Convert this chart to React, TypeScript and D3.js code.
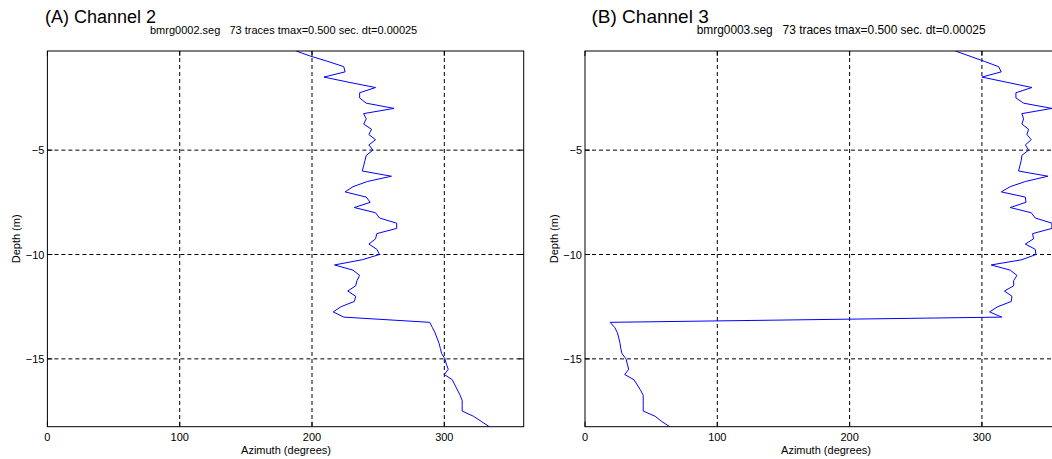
import React from 'react';
import * as d3 from 'd3';

// Depth of each of the 73 traces (m)
const depths = [
  -0.25, -0.5, -0.75, -1, -1.25, -1.5, -1.75, -2, -2.25, -2.5,
  -2.75, -3, -3.25, -3.5, -3.75, -4, -4.25, -4.5, -4.75, -5,
  -5.25, -5.5, -5.75, -6, -6.25, -6.5, -6.75, -7, -7.25, -7.5,
  -7.75, -8, -8.25, -8.5, -8.75, -9, -9.25, -9.5, -9.75, -10,
  -10.25, -10.5, -10.75, -11, -11.25, -11.5, -11.75, -12, -12.25, -12.5,
  -12.75, -13, -13.25, -13.5, -13.75, -14, -14.25, -14.5, -14.75, -15,
  -15.25, -15.5, -15.75, -16, -16.25, -16.5, -16.75, -17, -17.25, -17.5,
  -17.75, -18, -18.25,
];

// Azimuth (degrees), channel 2
const channel2 = [
  188, 199, 212, 224, 225, 209, 228, 248, 236, 236,
  241, 262, 239, 241, 239, 245, 243, 248, 243, 246,
  241, 240, 239, 238, 260, 242, 231, 225, 241, 244,
  232, 248, 251, 264, 264, 249, 248, 243, 249, 251,
  238, 217, 231, 236, 234, 233, 227, 233, 232, 222,
  216, 224, 289, 291, 293, 294.5, 296, 297, 298, 300.5,
  301.5, 303, 300, 306, 308, 310, 312, 313.5, 313.5, 313.5,
  322, 328, 334,
];

// Azimuth (degrees), channel 3
const channel3 = [
  280, 291, 302, 312.6, 314.6, 300, 319, 337.8, 325.7, 325.7,
  331.5, 352.9, 330.2, 331.5, 330.2, 335.3, 334, 337.3, 332.8, 335.3,
  330.2, 329.7, 328.7, 327.7, 349.9, 333, 321.4, 314.6, 332.8, 333.3,
  321.4, 337.3, 340.3, 352.9, 352.9, 338.3, 339, 332.8, 340.3, 340.8,
  330.2, 307, 321.4, 326.5, 324, 324, 317, 322.7, 322.2, 312,
  305.8, 315, 19, 22.5, 24.5, 25.5, 26.5, 27, 28, 31,
  32, 33, 30, 37, 39.5, 42, 44, 44, 44, 44,
  53, 58, 64,
];

const xTicks = [0, 100, 200, 300];
const yTicks = [-5, -10, -15];
const panelTitles = ['(A) Channel 2', '(B) Channel 3'];
const panelSubtitles = [
  'bmrg0002.seg   73 traces tmax=0.500 sec. dt=0.00025',
  'bmrg0003.seg   73 traces tmax=0.500 sec. dt=0.00025',
];
const xDomain = [0, 360];
const yDomain = [-0.25, -18.25];

const FONT = '"Liberation Sans", Arial, Helvetica, sans-serif';

const layouts = [
  { left: 47.4, right: 523.7, titleX: 45, titleSize: 18, subX: 150, subSize: 11, depthX: 20, azX: 286 },
  { left: 585, right: 1061.3, titleX: 591.5, titleSize: 19, subX: 696.7, subSize: 11.9, depthX: 557.6, azX: 826 },
];
const TOP = 51;
const BOTTOM = 426.7;

function Panel({ idx, values }: { idx: number; values: number[] }) {
  const L = layouts[idx];
  const x = d3.scaleLinear().domain(xDomain).range([L.left, L.right]);
  const y = d3.scaleLinear().domain(yDomain).range([TOP, BOTTOM]);
  const pts: [number, number][] = values.map((v, i) => [v, depths[i]]);
  const line = d3
    .line<[number, number]>()
    .x((d) => x(d[0]))
    .y((d) => y(d[1]));
  const clipId = `clip-${idx}`;
  const tick = 5;
  return (
    <g>
      <defs>
        <clipPath id={clipId}>
          <rect x={L.left} y={TOP} width={L.right - L.left} height={BOTTOM - TOP} />
        </clipPath>
      </defs>
      <text x={L.titleX} y={23} fontFamily={FONT} fontSize={L.titleSize} fill="#000">
        {panelTitles[idx]}
      </text>
      <text
        x={L.subX}
        y={34}
        fontFamily={FONT}
        fontSize={L.subSize}
        fill="#000"
        style={{ whiteSpace: 'pre' }}
      >
        {panelSubtitles[idx]}
      </text>
      <rect x={L.left} y={TOP} width={L.right - L.left} height={BOTTOM - TOP} fill="#fff" />
      {/* grid */}
      <g stroke="#000" strokeWidth={1} strokeDasharray="4,3" clipPath={`url(#${clipId})`}>
        {xTicks
          .filter((t) => t !== 0)
          .map((t) => (
            <line key={`gx${t}`} x1={x(t)} x2={x(t)} y1={TOP} y2={BOTTOM} />
          ))}
        {yTicks.map((t) => (
          <line key={`gy${t}`} x1={L.left} x2={L.right} y1={y(t)} y2={y(t)} />
        ))}
      </g>
      {/* data */}
      <path
        d={line(pts) || ''}
        fill="none"
        stroke="#0000ff"
        strokeWidth={1}
        clipPath={`url(#${clipId})`}
      />
      {/* box */}
      <rect
        x={L.left}
        y={TOP}
        width={L.right - L.left}
        height={BOTTOM - TOP}
        fill="none"
        stroke="#000"
        strokeWidth={1}
      />
      {/* ticks */}
      <g stroke="#000" strokeWidth={1}>
        {xTicks.map((t) => (
          <g key={`tx${t}`}>
            <line x1={x(t)} x2={x(t)} y1={TOP} y2={TOP + tick} />
            <line x1={x(t)} x2={x(t)} y1={BOTTOM} y2={BOTTOM - tick} />
          </g>
        ))}
        {yTicks.map((t) => (
          <g key={`ty${t}`}>
            <line x1={L.left} x2={L.left + tick} y1={y(t)} y2={y(t)} />
            <line x1={L.right} x2={L.right - tick} y1={y(t)} y2={y(t)} />
          </g>
        ))}
      </g>
      {/* tick labels */}
      {xTicks.map((t) => (
        <text
          key={`lx${t}`}
          x={x(t)}
          y={441}
          textAnchor="middle"
          fontFamily={FONT}
          fontSize={11}
          fill="#000"
        >
          {String(t)}
        </text>
      ))}
      {yTicks.map((t) => (
        <text
          key={`ly${t}`}
          x={L.left - 3}
          y={y(t) + 4}
          textAnchor="end"
          fontFamily={FONT}
          fontSize={11}
          fill="#000"
        >
          {'\u2212' + String(Math.abs(t))}
        </text>
      ))}
      <text
        x={L.azX}
        y={454}
        textAnchor="middle"
        fontFamily={FONT}
        fontSize={11}
        fill="#000"
      >
        Azimuth (degrees)
      </text>
      <text
        transform={`translate(${L.depthX},${(TOP + BOTTOM) / 2}) rotate(-90)`}
        textAnchor="middle"
        fontFamily={FONT}
        fontSize={11}
        fill="#000"
      >
        Depth (m)
      </text>
    </g>
  );
}

export default function App() {
  return (
    <svg
      width={1052}
      height={459}
      style={{ position: 'absolute', left: 0, top: 0, background: '#fff' }}
    >
      <rect x={0} y={0} width={1052} height={459} fill="#fff" />
      <Panel idx={0} values={channel2} />
      <Panel idx={1} values={channel3} />
    </svg>
  );
}
